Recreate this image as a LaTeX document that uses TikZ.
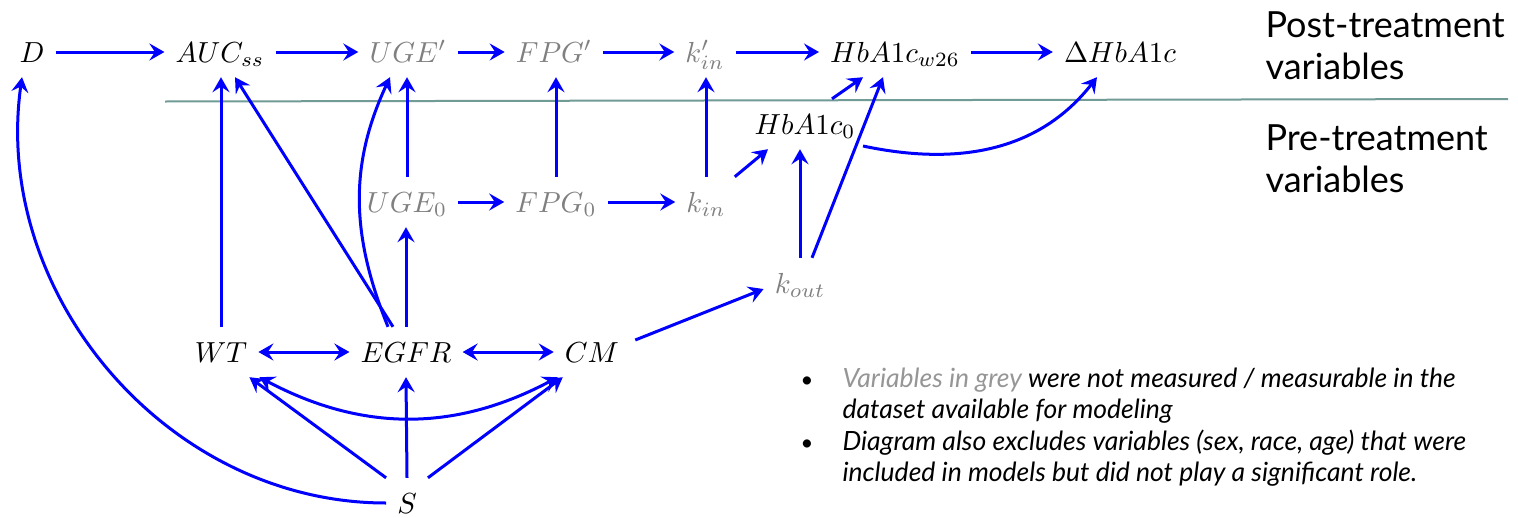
\documentclass[tikz,border=0pt]{standalone}
\usepackage{graphicx}
\usepackage{fontspec}
\newfontfamily\lato{Lato}
\usetikzlibrary{arrows.meta}
\definecolor{arrowblue}{RGB}{0,0,255}
\definecolor{unmeasured}{RGB}{128,128,128}
\definecolor{notegrey}{RGB}{150,150,150}
\definecolor{divider}{RGB}{112,155,150}
% large math labels: 10pt math scaled up
\newcommand\mth[1]{\scalebox{2.9}{$#1$}}

\begin{document}
\begin{tikzpicture}[x=1pt,y=1pt,
  >={Stealth[length=15pt,width=17pt,inset=5.5pt]},
  var/.style={font=\fontsize{10}{12}\selectfont, text height=20pt, text depth=0pt,
              inner xsep=11pt, inner ysep=15pt},
  grey/.style={var, text=unmeasured},
  link/.style={draw=arrowblue, line width=3pt, ->},
  mutual/.style={draw=arrowblue, line width=3pt, <->},
  side/.style={anchor=base west, align=left, font=\lato\fontsize{36}{42}\selectfont},
  note/.style={anchor=base west, align=left, font=\lato\itshape\fontsize{26.5}{31.5}\selectfont},
]
% canvas
\fill[white] (0,-517) rectangle (1518,0);
\useasboundingbox (0,-517) rectangle (1518,0);

% divider between post- and pre-treatment variables
\draw[divider, line width=2pt] (165,-101.5) -- (1508,-99);
% multi-line nodes: the base anchor sits on the last line
\node[side] (post) at (1262,-79) {Post-treatment\\variables};
\node[side] (pre)  at (1262,-192) {Pre-treatment\\variables};

% post-treatment row
\node[var]  (D)   at (32,-52)   {\mth{D}};
\node[var]  (AUC) at (220,-52)  {\mth{AUC_{ss}}};
\node[grey] (UGEp) at (408,-52) {\mth{UGE'}};
\node[grey] (FPGp) at (554,-52) {\mth{FPG'}};
\node[grey] (kinp) at (705,-52) {\mth{k'_{in}}};
\node[var]  (Hw)  at (895,-52)  {\mth{HbA1c_{w26}}};
\node[var]  (dH)  at (1120,-52) {\mth{\Delta HbA1c}};

% pre-treatment variables
\node[var]  (H0)   at (805,-124) {\mth{HbA1c_0}};
\node[grey] (UGE0) at (407,-202) {\mth{UGE_0}};
\node[grey] (FPG0) at (556,-202) {\mth{FPG_0}};
\node[grey] (kin)  at (706,-202) {\mth{k_{in}}};
\node[grey] (kout) at (800,-283) {\mth{k_{out}}};
\node[var]  (WT)   at (221,-352) {\mth{WT}};
\node[var]  (EGFR) at (406,-352) {\mth{EGFR}};
\node[var]  (CM)   at (592,-352) {\mth{CM}};
\node[var]  (S)    at (407,-503) {\mth{S}};

% top chain
\draw[link] (D) -- (AUC);
\draw[link] (AUC) -- (UGEp);
\draw[link] (UGEp) -- (FPGp);
\draw[link] (FPGp) -- (kinp);
\draw[link] (kinp) -- (Hw);
\draw[link] (Hw) -- (dH);

% middle chain
\draw[link] (UGE0) -- (FPG0);
\draw[link] (FPG0) -- (kin);
\draw[link] (UGE0.north) -- (UGE0.north |- UGEp.south);
\draw[link] (FPG0.north) -- (FPG0.north |- FPGp.south);
\draw[link] (kin.north) -- (kin.north |- kinp.south);
\draw[link] ([xshift=-2]kin.north east) -- ([xshift=-37]H0.south);
\draw[link] (kout.north) -- (kout.north |- H0.south);
\draw[link] ([xshift=12]kout.north) -- ([xshift=-12]Hw.south);
\draw[link] ([xshift=27]H0.north) -- ([xshift=-32]Hw.south);
\draw[link] ([xshift=58,yshift=-22]H0.center) to[out=-12,in=-128] ([xshift=-23]dH.south);

% baseline covariates
\draw[link] (WT.north) -- (WT.north |- AUC.south);
\draw[link] ([xshift=-13]EGFR.north) -- ([xshift=15]AUC.south);
\draw[link] ([xshift=-18]EGFR.north) to[out=112,in=-115] ([xshift=-18]UGEp.south);
\draw[link] (EGFR.north) -- (EGFR.north |- UGE0.south);
\draw[link] ([xshift=5,yshift=12]CM.east) -- ([yshift=-6]kout.west);
\draw[mutual] (WT) -- (EGFR);
\draw[mutual] (EGFR) -- (CM);
\draw[mutual] ([xshift=1]WT.south east) to[bend right=28] ([xshift=4]CM.south west);

% S
\draw[link] (S.north west) -- ([xshift=-9]WT.south east);
\draw[link] (S.north) -- (EGFR.south);
\draw[link] (S.north east) -- ([xshift=9]CM.south west);
\draw[link] (S.west) to[out=180,in=-98] ([xshift=-10]D.south);

% notes
\node[anchor=base, font=\lato\fontsize{22}{31.5}\selectfont] (b1) at (807,-387) {\textbullet};
\node[anchor=base, font=\lato\fontsize{22}{31.5}\selectfont] (b2) at (807,-450) {\textbullet};
\node[note] (n1) at (839,-418.5) {\textcolor{notegrey}{Variables in grey} were not measured / measurable in the\\dataset available for modeling};
\node[note] (n2) at (839,-481.5) {Diagram also excludes variables (sex, race, age) that were\\included in models but did not play a significant role.};
\end{tikzpicture}
\end{document}
